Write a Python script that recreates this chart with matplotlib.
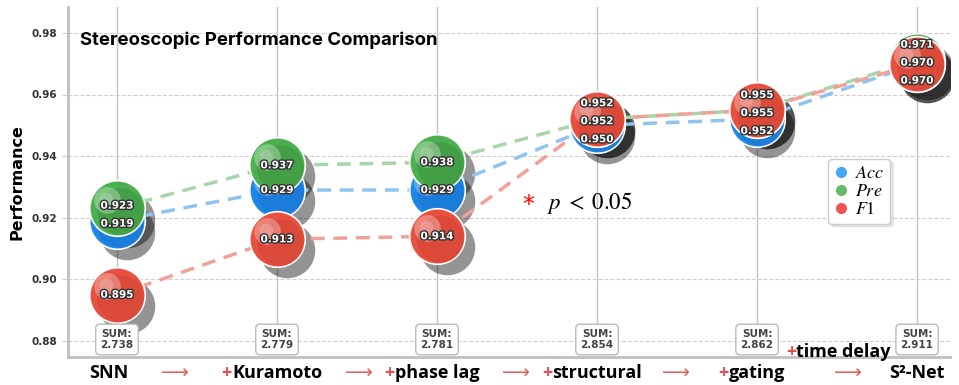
import matplotlib
matplotlib.use('Agg')
import matplotlib.pyplot as plt
import matplotlib.patheffects as pe
from matplotlib.lines import Line2D
from matplotlib.transforms import offset_copy, blended_transform_factory

# ablation stages and scores
stages = ['SNN', 'Kuramoto', 'phase lag', 'structural', 'gating', 'S²-Net']
added = [False, True, True, True, True, False]
acc = [0.919, 0.929, 0.929, 0.950, 0.952, 0.970]
pre = [0.923, 0.937, 0.938, 0.952, 0.955, 0.971]
f1 = [0.895, 0.913, 0.914, 0.952, 0.955, 0.970]
sums = ['2.738', '2.779', '2.781', '2.854', '2.862', '2.911']
arrow_x = [0.36, 1.51, 2.49, 3.49, 4.57]

plt.rcParams['mathtext.fontset'] = 'stix'
LABEL_FONT = 'Open Sans'

series = [
    ('$Acc$', acc, '#1E88E5', '#1565C0', '#42A5F5', '#90C4F0'),
    ('$Pre$', pre, '#4CAF50', '#2E7D32', '#66BB6A', '#A8D5A9'),
    ('$F1$', f1, '#E8503F', '#C0392B', '#EF5350', '#F0A29A'),
]

fig = plt.figure(figsize=(9.59, 3.85), dpi=100)
ax = fig.add_axes([68 / 959, 28 / 385, 882 / 959, 350 / 385])
x = list(range(len(stages)))

ax.set_xlim(-0.306, 5.206)
ax.set_ylim(0.8748, 0.9884)
ax.set_yticks([0.88, 0.90, 0.92, 0.94, 0.96, 0.98])
ax.set_yticklabels(['%.2f' % v for v in ax.get_yticks()])
ax.set_xticks(x)
ax.set_xticklabels([])
ax.tick_params(axis='x', length=0)
ax.tick_params(axis='y', length=4, color='#cccccc', labelsize=7.5, labelcolor='#333333')
for lab in ax.get_yticklabels():
    lab.set_fontweight('bold')
ax.grid(axis='y', ls='--', color='#d0d0d0', lw=0.8)
ax.grid(axis='x', ls='-', color='#c4c4c4', lw=1)
ax.set_axisbelow(True)
for sp in ['top', 'right']:
    ax.spines[sp].set_visible(False)
for sp in ['left', 'bottom']:
    ax.spines[sp].set_color('#c0c0c0')
    ax.spines[sp].set_linewidth(2)

R = 20.0  # bubble radius in points
S = (2 * R) ** 2
shadow_tr = offset_copy(ax.transData, fig=fig, x=7, y=-8, units='points')
shade_tr = offset_copy(ax.transData, fig=fig, x=2, y=-2, units='points')
hl_tr = offset_copy(ax.transData, fig=fig, x=-7, y=6, units='points')
hl2_tr = offset_copy(ax.transData, fig=fig, x=-8, y=7, units='points')

for i, (name, vals, col, dark, mk, lcol) in enumerate(series):
    ax.plot(x, vals, ls=(0, (4, 2.5)), lw=2.5, color=lcol, zorder=3)
    ax.scatter(x, vals, s=S, color='black', alpha=0.42, lw=0, transform=shadow_tr, zorder=2)
    z = 4 + i
    ax.scatter(x, vals, s=S, color=col, edgecolor='white', lw=1.2, zorder=z)
    ax.scatter(x, vals, s=(2 * R * 0.84) ** 2, color=dark, alpha=0.3, lw=0,
               transform=shade_tr, zorder=z + 0.1)
    ax.scatter(x, vals, s=(2 * R * 0.48) ** 2, color='white', alpha=0.3, lw=0,
               transform=hl_tr, zorder=z + 0.2)
    ax.scatter(x, vals, s=(2 * R * 0.24) ** 2, color='white', alpha=0.2, lw=0,
               transform=hl2_tr, zorder=z + 0.3)

# value labels, spread apart where they would overlap
gap = 18 / 3080.0
for j in x:
    items = sorted([(s[1][j], s[0]) for s in series], reverse=True)
    clusters = [[items[0]]]
    for it in items[1:]:
        if clusters[-1][-1][0] - it[0] < gap:
            clusters[-1].append(it)
        else:
            clusters.append([it])
    for cl in clusters:
        mean = sum(v for v, _ in cl) / len(cl)
        n = len(cl)
        for k, (v, _) in enumerate(cl):
            yy = mean + ((n - 1) / 2 - k) * gap
            ax.text(j, yy, '%.3f' % v, ha='center', va='center', fontsize=7.5,
                    fontweight='bold', color='white', zorder=20,
                    path_effects=[pe.withStroke(linewidth=2, foreground='#333333')])

bt = blended_transform_factory(ax.transData, ax.transAxes)
for j, s in enumerate(sums):
    ax.text(j, 0.05, 'SUM:\n' + s, transform=bt, ha='center', va='center',
            fontsize=7.5, fontweight='bold', color='#444444', linespacing=1.15,
            zorder=15,
            bbox=dict(boxstyle='round,pad=0.45,rounding_size=0.4', fc='white',
                      ec='#bbbbbb', lw=1))

# stage names under the axis
for j, name in enumerate(stages):
    pos = j - 0.05 if j == 0 else j
    t = ax.text(pos, -0.046, name, transform=bt, ha='center', va='center',
                fontsize=13, fontweight='bold', family=LABEL_FONT, color='black',
                clip_on=False)
    if added[j]:
        ax.annotate('+', xy=(0, 0.5), xycoords=t, ha='right', va='center',
                    fontsize=13, fontweight='bold', family=LABEL_FONT, color='#e05050')
for ax_x in arrow_x:
    ax.text(ax_x, -0.046, '⟶', transform=bt, ha='center', va='center',
            fontsize=14, color='#e06060', family='DejaVu Sans', clip_on=False)

t = ax.text(4.54, 0.014, 'time delay', transform=bt, ha='center', va='center',
            fontsize=13, fontweight='bold', family=LABEL_FONT, color='black', zorder=16)
ax.annotate('+', xy=(0, 0.5), xycoords=t, ha='right', va='center',
            fontsize=13, fontweight='bold', family=LABEL_FONT, color='#e05050', zorder=16)

ax.text(0.0136, 0.906, 'Stereoscopic Performance Comparison', transform=ax.transAxes,
        ha='left', va='center', fontsize=13.4, fontweight='bold', family='Inter')

ax.text(2.569, 0.9242, '*', ha='center', va='center', fontsize=17, color='red')
ax.text(2.6875, 0.9248, r'$p\;<\;0.05$', ha='left', va='center', fontsize=16.5, color='black')

ax.set_ylabel('Performance', fontsize=11.5, fontweight='bold')
ax.yaxis.set_label_coords(-0.0488, 0.5)

handles = [Line2D([], [], ls='none', marker='o', markersize=7, color=s[4]) for s in series]
leg = ax.legend(handles, [s[0] for s in series], loc='upper left',
                bbox_to_anchor=(0.862, 0.566), borderaxespad=0, fontsize=13,
                handlelength=0.8, handletextpad=0.4, labelspacing=0.0,
                borderpad=0.3, fancybox=True, framealpha=1,
                edgecolor='#cccccc', shadow={'alpha': 0.12, 'ox': 2, 'oy': -2})
leg.set_zorder(25)

fig.savefig('out.png', dpi=100)
